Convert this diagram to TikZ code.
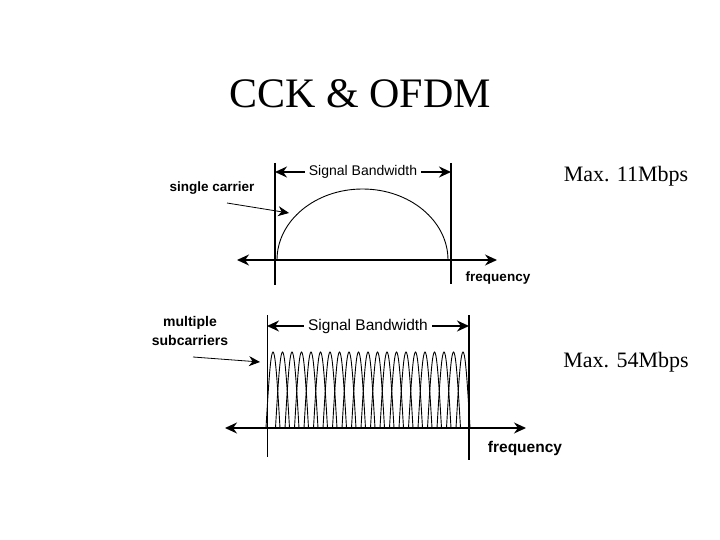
\documentclass[tikz,border=0pt]{standalone}
\usepackage{fontspec}
\setmainfont{Liberation Serif}
\newfontfamily\arialfont{Liberation Sans}
\usetikzlibrary{arrows.meta,positioning}
\tikzstyle{axis} = [line width=1.3pt,{Stealth[length=12pt,width=11pt]}-{Stealth[length=12pt,width=11pt]}]
\tikzstyle{bandarrow} = [line width=1.5pt,-{Stealth[length=12pt,width=11pt]}]
\tikzstyle{pointer} = [line width=0.8pt,-{Stealth[length=11pt,width=10pt]}]
\tikzstyle{edge} = [line width=1.6pt]
\tikzstyle{carrier} = [line width=0.9pt]
\tikzstyle{boldlabel} = [font=\arialfont\bfseries\fontsize{13.5}{15}\selectfont, inner sep=0pt, align=center]
\tikzstyle{bwlabel} = [font=\arialfont\fontsize{14}{16}\selectfont, inner sep=4pt]
\tikzstyle{ratelabel} = [font=\fontsize{22}{24}\selectfont, inner sep=0pt, anchor=base]

\begin{document}
\begin{tikzpicture}[x=1pt, y=-1pt]
    \useasboundingbox (0,0) rectangle (720,540);

    % Title
    \node[font=\fontsize{42}{46}\selectfont, anchor=base, inner sep=0pt] (title) at (360,108) {CCK \& OFDM};

    % Top - single carrier
    \coordinate (ltop) at (275,163);
    \coordinate (lbot) at (275,285);
    \coordinate (rtop) at (451,163);
    \coordinate (rbot) at (451,284);
    \coordinate (axl) at (237,260);
    \coordinate (axr) at (497,260);
    \draw[edge] (ltop) -- (lbot);
    \draw[edge] (rtop) -- (rbot);
    \draw[axis] (axl) -- (axr);
    \node[bwlabel] (bw) at (363,172) {Signal Bandwidth};
    \draw[bandarrow] (bw.west) -- (ltop |- bw);
    \draw[bandarrow] (bw.east) -- (rtop |- bw);
    \draw[carrier] (277,260) arc[start angle=180, end angle=360, x radius=85.5, y radius=71];
    \node[boldlabel] (single) at (212,188) {single carrier};
    \coordinate (sctail) at (227,203);
    \coordinate (schead) at (289,213);
    \draw[pointer] (sctail) -- (schead);
    \node[boldlabel] (freq) at (498,278) {frequency};
    \node[ratelabel] (rate) at (626,182) {Max. 11Mbps};

    % Bottom - multiple subcarriers
    \coordinate (mltop) at (267,315);
    \coordinate (mlbot) at (267,457);
    \coordinate (mrtop) at (469,315);
    \coordinate (mrbot) at (469,460);
    \coordinate (maxl) at (225,428);
    \coordinate (maxr) at (526,428);
    \draw[carrier] (mltop) -- (mlbot);
    \draw[edge] (mrtop) -- (mrbot);
    \draw[axis] (maxl) -- (maxr);
    \node[bwlabel, font=\arialfont\fontsize{15.5}{17}\selectfont] (mbw) at (368,326) {Signal Bandwidth};
    \draw[bandarrow] (mbw.west) -- (mltop |- mbw);
    \draw[bandarrow] (mbw.east) -- (mrtop |- mbw);
    \foreach \i in {0,...,20}
        \draw[carrier] plot[domain=-7:7, samples=21, smooth, variable=\t]
            ({273+9.5*\i+\t},{428-76*cos(\t*90/7)});
    \node[boldlabel, font=\arialfont\bfseries\fontsize{14}{19}\selectfont] (multi) at (190,331) {multiple\\subcarriers};
    \coordinate (mctail) at (193,357);
    \coordinate (mchead) at (260,362);
    \draw[pointer] (mctail) -- (mchead);
    \node[boldlabel, font=\arialfont\bfseries\fontsize{15.5}{17}\selectfont] (mfreq) at (525,448) {frequency};
    \node[ratelabel] (mrate) at (626,367) {Max. 54Mbps};
\end{tikzpicture}
\end{document}
